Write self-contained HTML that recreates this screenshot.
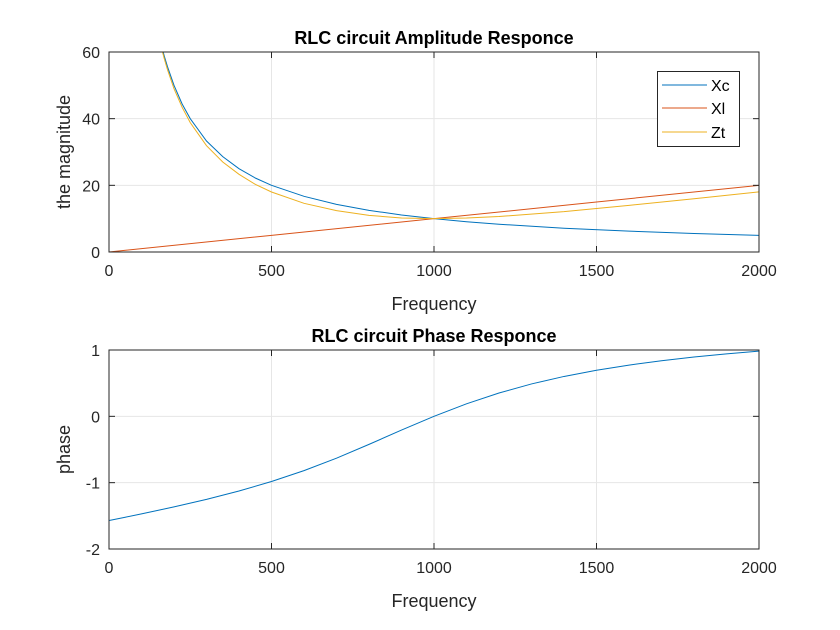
<!DOCTYPE html>
<html><head><meta charset="utf-8"><style>
html,body{margin:0;padding:0;background:#fff;}
svg{display:block;font-family:"Liberation Sans",Arial,sans-serif;}
</style></head><body>
<svg id="c" width="840" height="630" viewBox="0 0 840 630"></svg>
<script>
const xTicks=[0,500,1000,1500,2000];
const ampTicks=[0,20,40,60];
const phaseTicks=[-2,-1,0,1];
const freq=[160,170,180,200,225,250,300,350,400,450,500,600,700,800,900,1000,1100,1200,1400,1600,1800,2000];
const xcVals=[62.5,58.8,55.6,50,44.4,40,33.3,28.6,25,22.2,20,16.7,14.3,12.5,11.1,10,9.09,8.33,7.14,6.25,5.56,5];
const xlFreq=[0,500,1000,1500,2000];
const xlVals=[0,5,10,15,20];
const ztVals=[61.7,58.0,54.7,49.0,43.4,38.8,31.9,27.0,23.3,20.3,18.0,14.6,12.4,11.0,10.2,10,10.2,10.65,12.1,14.0,15.96,18.03];
const phaseFreq=[0,10,50,100,200,300,400,500,600,700,800,900,1000,1100,1200,1300,1400,1500,1600,1700,1800,1900,2000];
const phaseVals=[-1.5708,-1.5608,-1.5207,-1.4701,-1.3654,-1.2518,-1.1263,-0.9828,-0.8189,-0.6305,-0.4229,-0.2072,0,0.1887,0.3518,0.4883,0.6012,0.6947,0.7728,0.8385,0.8938,0.9414,0.9828];

const NS="http://www.w3.org/2000/svg";
const svg=document.getElementById('c');
function mk(tag,attrs,parent){const e=document.createElementNS(NS,tag);for(const k in attrs)e.setAttribute(k,attrs[k]);(parent||svg).appendChild(e);return e;}
const L=109,R=759;
const sx=v=>L+(v-0)/(2000-0)*(R-L);
function axes(top,bot,ymin,ymax,yt,id,title,ylabel){
  const sy=v=>bot-(v-ymin)/(ymax-ymin)*(bot-top);
  const g=mk('g',{});
  
  
  mk('rect',{x:L,y:top,width:R-L,height:bot-top,fill:'#fff'},g);
  xTicks.forEach(t=>{const l=mk('line',{x1:sx(t),x2:sx(t),y1:top,y2:bot,stroke:'#e6e6e6','stroke-width':1},g);
    });
  yt.forEach(t=>{const l=mk('line',{x1:L,x2:R,y1:sy(t),y2:sy(t),stroke:'#e6e6e6','stroke-width':1},g);
    });
  const cp=mk('clipPath',{id:'cp-'+id},g);mk('rect',{x:L,y:top,width:R-L,height:bot-top},cp);
  return {g,sy,top,bot,finish(){
    mk('rect',{x:L,y:top,width:R-L,height:bot-top,fill:'none',stroke:'#262626','stroke-width':1},g);
    xTicks.forEach(t=>{mk('line',{x1:sx(t),x2:sx(t),y1:bot,y2:bot-6,stroke:'#262626'},g);mk('line',{x1:sx(t),x2:sx(t),y1:top,y2:top+6,stroke:'#262626'},g);
      const tx=mk('text',{x:sx(t),y:bot+24,'text-anchor':'middle','font-size':16,fill:'#262626'},g);tx.textContent=t;
      });
    yt.forEach(t=>{mk('line',{x1:L,x2:L+6,y1:sy(t),y2:sy(t),stroke:'#262626'},g);mk('line',{x1:R,x2:R-6,y1:sy(t),y2:sy(t),stroke:'#262626'},g);
      const tx=mk('text',{x:L-9,y:sy(t)+6,'text-anchor':'end','font-size':16,fill:'#262626'},g);tx.textContent=t;
      });
    const tt=mk('text',{x:(L+R)/2,y:top-8,'text-anchor':'middle','font-size':18,'font-weight':'bold',fill:'#000'},g);tt.textContent=title;
    
    const xl=mk('text',{x:(L+R)/2,y:bot+58,'text-anchor':'middle','font-size':18,fill:'#262626'},g);xl.textContent='Frequency';
    
    const cy=(top+bot)/2;
    const yl=mk('text',{x:70,y:cy,'text-anchor':'middle','font-size':18,fill:'#262626',transform:'rotate(-90 70 '+cy+')'},g);yl.textContent=ylabel;
    
  }};
}
function line(ax,id,xs,ys,color,name){
  const d=xs.map((x,i)=>(i?'L':'M')+sx(x).toFixed(2)+','+ax.sy(ys[i]).toFixed(2)).join('');
  const p=mk('path',{d,fill:'none',stroke:color,'stroke-width':1,'clip-path':'url(#cp-'+id+')'},ax.g);
  
  
}
const a1=axes(52,252,0,60,ampTicks,'amp','RLC circuit Amplitude Responce','the magnitude');
line(a1,'amp',freq,xcVals,'#0072BD','xc-line');
line(a1,'amp',xlFreq,xlVals,'#D95319','xl-line');
line(a1,'amp',freq,ztVals,'#EDB120','zt-line');
a1.finish();
const lg=mk('g',{});


mk('rect',{x:657.5,y:71.5,width:82,height:75,fill:'#fff',stroke:'#262626'},lg);
[['Xc','#0072BD',85],['Xl','#D95319',108],['Zt','#EDB120',132]].forEach(([n,c,y])=>{
  const e=mk('g',{},lg);
  
  
  mk('line',{x1:662,x2:707,y1:y,y2:y,stroke:c},e);
  const t=mk('text',{x:711,y:y+6,'font-size':16,fill:'#000'},e);t.textContent=n;
});
const a2=axes(350,549,-2,1,phaseTicks,'phase','RLC circuit Phase Responce','phase');
line(a2,'phase',phaseFreq,phaseVals,'#0072BD','phase-line');
a2.finish();
</script>
</body></html>
